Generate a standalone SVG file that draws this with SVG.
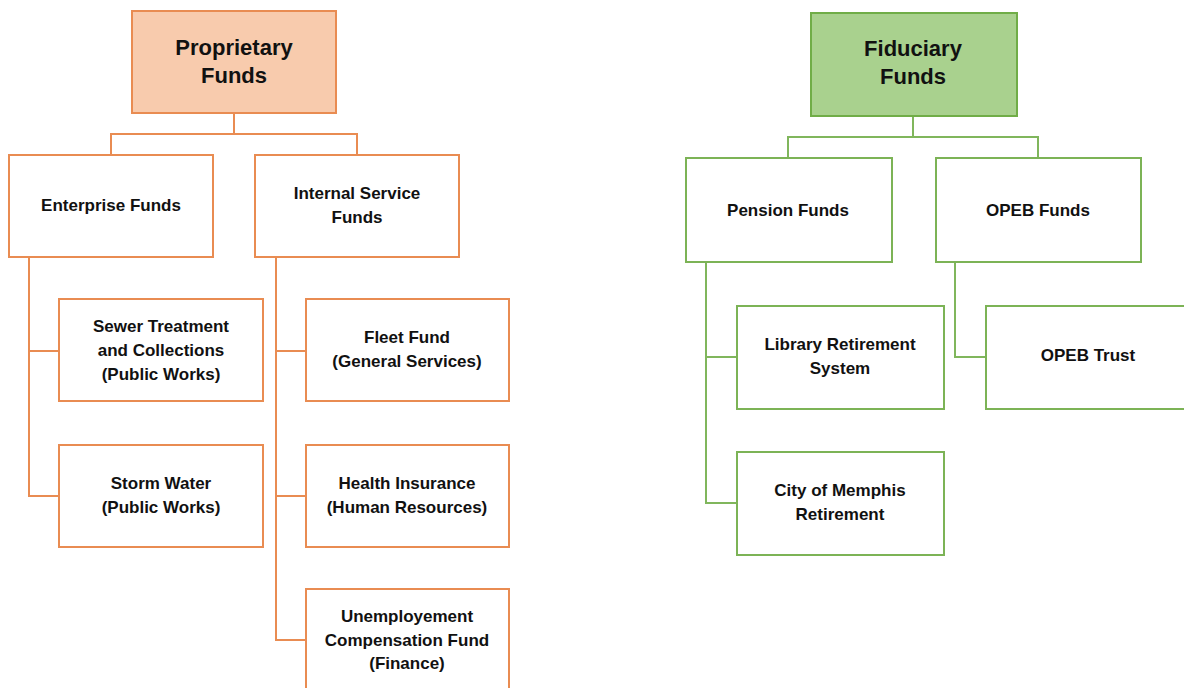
<svg xmlns="http://www.w3.org/2000/svg" width="1184" height="688" viewBox="0 0 1184 688">
<style>
text{font-family:"Liberation Sans",Arial,sans-serif;font-weight:bold;fill:#111;text-anchor:middle;font-size:17px}
.t{font-size:22px}
.o{fill:#fff;stroke:#e98c52;stroke-width:2}
.ot{fill:#f8cbad;stroke:#e98c52;stroke-width:2}
.g{fill:#fff;stroke:#7cb356;stroke-width:2}
.gt{fill:#a9d18e;stroke:#70ad47;stroke-width:2}
.lo{fill:none;stroke:#e98c52;stroke-width:2}
.lg{fill:none;stroke:#80b65c;stroke-width:2}
</style>
<rect width="1184" height="688" fill="#fff"/>
<g id="connectors">
<path class="lo" d="M234 113V134M111 155V134H357V155"/>
<path class="lo" d="M29 257V496H59M29 351H59"/>
<path class="lo" d="M276 257V640H306M276 351H306M276 496H306"/>
<path class="lg" d="M913 116V137M788 158V137H1038V158"/>
<path class="lg" d="M706 262V503H737M706 357H737"/>
<path class="lg" d="M955 262V357H986"/>
</g>
<g id="proprietary"><rect class="ot" x="132" y="11" width="204" height="102"/><text class="t" x="234" y="55">Proprietary</text><text class="t" x="234" y="83">Funds</text></g>
<g id="enterprise"><rect class="o" x="9" y="155" width="204" height="102"/><text x="111" y="211">Enterprise Funds</text></g>
<g id="internal"><rect class="o" x="255" y="155" width="204" height="102"/><text x="357" y="199">Internal Service</text><text x="357" y="223">Funds</text></g>
<g id="sewer"><rect class="o" x="59" y="299" width="204" height="102"/><text x="161" y="332">Sewer Treatment</text><text x="161" y="356">and Collections</text><text x="161" y="380">(Public Works)</text></g>
<g id="storm"><rect class="o" x="59" y="445" width="204" height="102"/><text x="161" y="489">Storm Water</text><text x="161" y="513">(Public Works)</text></g>
<g id="fleet"><rect class="o" x="306" y="299" width="203" height="102"/><text x="407" y="343">Fleet Fund</text><text x="407" y="367">(General Services)</text></g>
<g id="health"><rect class="o" x="306" y="445" width="203" height="102"/><text x="407" y="489">Health Insurance</text><text x="407" y="513">(Human Resources)</text></g>
<g id="unemp"><rect class="o" x="306" y="589" width="203" height="102"/><text x="407" y="622">Unemployement</text><text x="407" y="646">Compensation Fund</text><text x="407" y="669">(Finance)</text></g>
<g id="fiduciary"><rect class="gt" x="811" y="13" width="206" height="103"/><text class="t" x="913" y="56">Fiduciary</text><text class="t" x="913" y="84">Funds</text></g>
<g id="pension"><rect class="g" x="686" y="158" width="206" height="104"/><text x="788" y="216">Pension Funds</text></g>
<g id="opeb"><rect class="g" x="936" y="158" width="205" height="104"/><text x="1038" y="216">OPEB Funds</text></g>
<g id="library"><rect class="g" x="737" y="306" width="207" height="103"/><text x="840" y="350">Library Retirement</text><text x="840" y="374">System</text></g>
<g id="city"><rect class="g" x="737" y="452" width="207" height="103"/><text x="840" y="496">City of Memphis</text><text x="840" y="520">Retirement</text></g>
<g id="opebtrust"><rect class="g" x="986" y="306" width="206" height="103"/><text x="1088" y="361">OPEB Trust</text></g>
</svg>
